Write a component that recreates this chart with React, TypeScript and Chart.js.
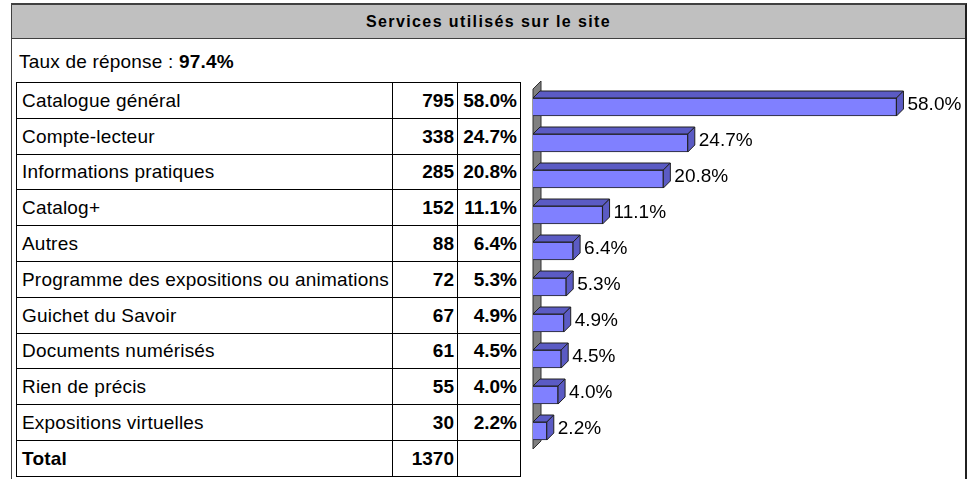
import React, { useEffect, useRef } from "react";
import { Chart, registerables } from "chart.js";

Chart.register(...registerables);

const title = "Services utilisés sur le site";
const responseRate = "97.4%";
const categories = [
  "Catalogue général",
  "Compte-lecteur",
  "Informations pratiques",
  "Catalog+",
  "Autres",
  "Programme des expositions ou animations",
  "Guichet du Savoir",
  "Documents numérisés",
  "Rien de précis",
  "Expositions virtuelles",
];
const counts = [795, 338, 285, 152, 88, 72, 67, 61, 55, 30];
const percents = [58.0, 24.7, 20.8, 11.1, 6.4, 5.3, 4.9, 4.5, 4.0, 2.2];
const total = 1370;

const FONT = '"Liberation Sans", Arial, sans-serif';
const DEPTH = 7;

const threeD = {
  id: "threeD",
  beforeDatasetsDraw(chart: any) {
    const { ctx, chartArea, scales } = chart;
    const x0 = scales.x.getPixelForValue(0);
    const d = 8;
    ctx.save();
    ctx.beginPath();
    ctx.moveTo(x0, chartArea.top);
    ctx.lineTo(x0 + d, chartArea.top - d);
    ctx.lineTo(x0 + d, chartArea.bottom - d);
    ctx.lineTo(x0, chartArea.bottom);
    ctx.closePath();
    ctx.fillStyle = "#808080";
    ctx.fill();
    ctx.strokeStyle = "#303030";
    ctx.lineWidth = 1;
    ctx.stroke();
    ctx.restore();
  },
  afterDatasetsDraw(chart: any) {
    const { ctx } = chart;
    const meta = chart.getDatasetMeta(0);
    ctx.save();
    ctx.lineWidth = 1;
    ctx.strokeStyle = "#202020";
    meta.data.forEach((bar: any, i: number) => {
      const { x, y, base, height } = bar.getProps(["x", "y", "base", "height"], true);
      const top = y - height / 2;
      const bottom = y + height / 2;
      ctx.fillStyle = "#5b5bc4";
      ctx.beginPath();
      ctx.moveTo(base, top);
      ctx.lineTo(base + DEPTH, top - DEPTH);
      ctx.lineTo(x + DEPTH, top - DEPTH);
      ctx.lineTo(x, top);
      ctx.closePath();
      ctx.fill();
      ctx.stroke();
      ctx.beginPath();
      ctx.moveTo(x, top);
      ctx.lineTo(x + DEPTH, top - DEPTH);
      ctx.lineTo(x + DEPTH, bottom - DEPTH);
      ctx.lineTo(x, bottom);
      ctx.closePath();
      ctx.fill();
      ctx.stroke();
      ctx.fillStyle = "#000";
      ctx.font = `19px ${FONT}`;
      ctx.textAlign = "left";
      ctx.textBaseline = "middle";
      ctx.fillText(percents[i].toFixed(1) + "%", x + DEPTH + 4, y - 2);
    });
    ctx.restore();
  },
};

export default function App() {
  const ref = useRef<HTMLCanvasElement>(null);
  useEffect(() => {
    const chart = new Chart(ref.current!, {
      type: "bar",
      data: {
        labels: categories,
        datasets: [
          {
            data: percents,
            backgroundColor: "#8080ff",
            borderColor: "#202020",
            borderWidth: 1,
            barThickness: 18,
          },
        ],
      },
      options: {
        indexAxis: "y",
        animation: false,
        responsive: false,
        maintainAspectRatio: false,
        layout: { padding: { left: 13, right: 61, top: 19, bottom: 21 } },
        plugins: { legend: { display: false }, tooltip: { enabled: false } },
        scales: {
          x: { display: false, min: 0, max: 60 },
          y: { display: false, offset: true, grid: { display: false } },
        },
      },
      plugins: [threeD],
    });
    return () => chart.destroy();
  }, []);

  const rowTop = (i: number) => Math.round(82 + i * 35.8);
  const rows = [...categories.map((c, i) => ({ c, n: String(counts[i]), p: percents[i].toFixed(1) + "%", bold: false })), { c: "Total", n: String(total), p: "", bold: true }];

  const cell = (left: number, width: number, top: number, height: number, text: string, align: "left" | "right", bold: boolean, key: string) => (
    <div
      key={key}
      style={{
        position: "absolute",
        left,
        top,
        width,
        height,
        boxSizing: "border-box",
        border: "1px solid #000",
        display: "flex",
        alignItems: "center",
        justifyContent: align === "left" ? "flex-start" : "flex-end",
        padding: align === "left" ? "0 0 0 5px" : "0 3px 0 0",
        fontWeight: bold ? "bold" : "normal",
        whiteSpace: "nowrap",
        letterSpacing: align === "left" ? 0.2 : 0,
      }}
    >
      {text}
    </div>
  );

  return (
    <div style={{ position: "fixed", left: 0, top: 0, width: 972, height: 479, background: "#fff", fontFamily: FONT, fontSize: 19, color: "#000", overflow: "hidden" }}>
      <div style={{ position: "absolute", left: 11, top: 3, width: 956, height: 36, boxSizing: "border-box", background: "#c0c0c0", borderTop: "2px solid #404040", borderLeft: "1px solid #404040", borderRight: "2px solid #202020", borderBottom: "1px solid #404040", display: "flex", alignItems: "center", justifyContent: "center", fontWeight: "bold", fontSize: 16, letterSpacing: 1.4 }}>
        {title}
      </div>
      <div style={{ position: "absolute", left: 11, top: 38, width: 1, height: 441, background: "#404040" }} />
      <div style={{ position: "absolute", left: 965, top: 38, width: 2, height: 441, background: "#202020" }} />
      <div style={{ position: "absolute", left: 19, top: 50, height: 24, display: "flex", alignItems: "center", whiteSpace: "nowrap", letterSpacing: 0.2 }}>
        Taux de réponse :&nbsp;<b>{responseRate}</b>
      </div>
      {rows.map((r, i) => {
        const t = rowTop(i);
        const h = rowTop(i + 1) - t + 1;
        return (
          <React.Fragment key={i}>
            {cell(16, 377, t, h, r.c, "left", r.bold, "a" + i)}
            {cell(392, 66, t, h, r.n, "right", true, "b" + i)}
            {cell(457, 64, t, h, r.p, "right", true, "c" + i)}
          </React.Fragment>
        );
      })}
      <canvas ref={ref} width={450} height={400} style={{ position: "absolute", left: 520, top: 70, width: 450, height: 400 }} />
    </div>
  );
}
